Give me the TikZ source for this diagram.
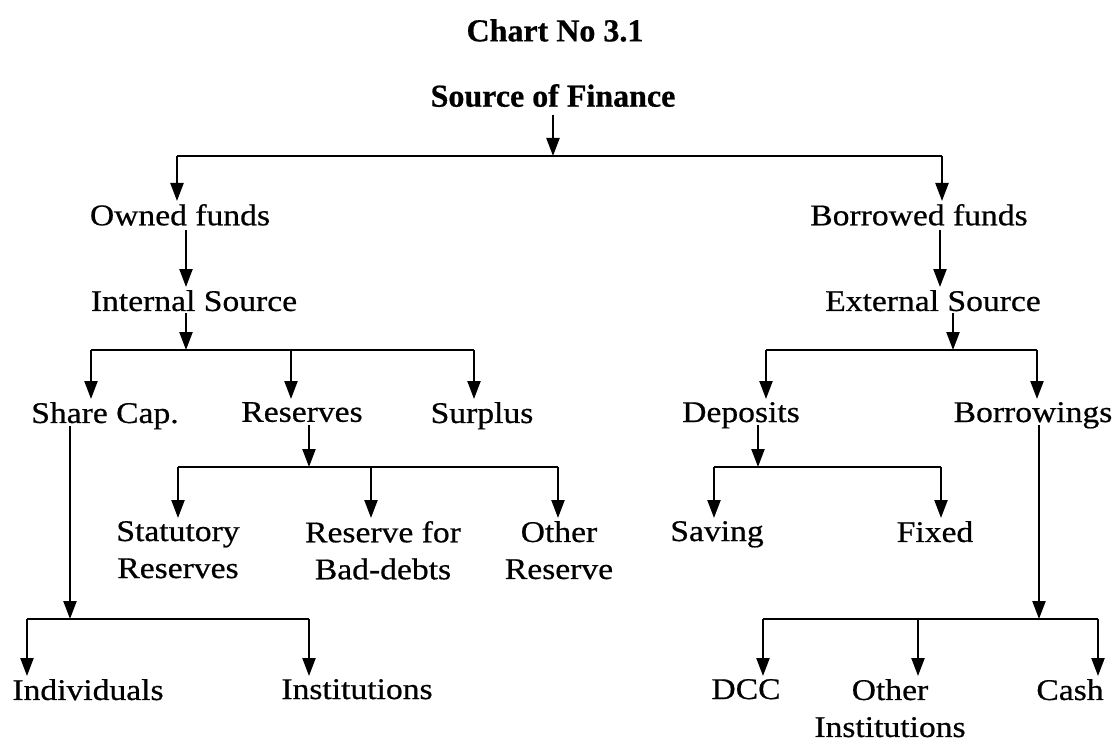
\documentclass[tikz,border=0pt]{standalone}
\usepackage{fontspec}
\setmainfont{Liberation Serif}[FakeStretch=1.12, FakeBold=0.6]
\newfontfamily\titlefont{Liberation Serif}[FakeBold=0.6]
\usetikzlibrary{arrows.meta}

\begin{document}
\begin{tikzpicture}[x=1pt, y=-1pt, line width=2.3pt,
    >={Triangle[width=13pt, length=18pt]},
    lbl/.style={anchor=north, inner sep=0pt, align=center,
        font=\fontsize{30}{37}\selectfont},
    head/.style={anchor=north, inner sep=0pt,
        font=\titlefont\bfseries\fontsize{32}{38}\selectfont},
    arr/.style={->, shorten >=2pt}]
    \useasboundingbox (0,0) rectangle (1120,749);

    % titles
    \node[head] (title) at (555,18) {Chart No 3.1};
    \node[head] (src) at (553,83) {Source of Finance};

    % first levels
    \node[lbl] (owned) at (180,203) {Owned funds};
    \node[lbl] (borrowed) at (919,203) {Borrowed funds};
    \node[lbl] (internal) at (194,289) {Internal Source};
    \node[lbl] (external) at (933,289) {External Source};

    % third level
    \node[lbl] (share) at (105,401) {Share Cap.};
    \node[lbl] (reserves) at (302,401) {Reserves};
    \node[lbl] (surplus) at (482,401) {Surplus};
    \node[lbl] (deposits) at (741,401) {Deposits};
    \node[lbl] (borrowings) at (1033,401) {Borrowings};

    % fourth level
    \node[lbl] (statutory) at (178,520) {Statutory\\Reserves};
    \node[lbl] (badDebts) at (383,520) {Reserve for\\Bad-debts};
    \node[lbl] (otherRes) at (559,520) {Other\\Reserve};
    \node[lbl] (saving) at (717,520) {Saving};
    \node[lbl] (fixed) at (935,520) {Fixed};

    % last level
    \node[lbl] (individuals) at (88,678) {Individuals};
    \node[lbl] (institutions) at (357,678) {Institutions};
    \node[lbl] (dcc) at (746,678) {DCC};
    \node[lbl] (otherInst) at (890,678) {Other\\Institutions};
    \node[lbl] (cash) at (1070,678) {Cash};

    % junctions
    \coordinate (s0) at (553,156);
    \coordinate (b1L) at (177,156);
    \coordinate (b1R) at (942,156);
    \coordinate (s1) at (186,0);
    \coordinate (s2) at (940,0);
    \coordinate (b2) at (186,350);
    \coordinate (b2L) at (91,350);
    \coordinate (b2M) at (291,350);
    \coordinate (b2R) at (474,350);
    \coordinate (b3) at (953,350);
    \coordinate (b3L) at (766,350);
    \coordinate (b3R) at (1037,350);
    \coordinate (b4) at (309,467);
    \coordinate (b4L) at (178,467);
    \coordinate (b4M) at (371,467);
    \coordinate (b4R) at (558,467);
    \coordinate (b5) at (758,467);
    \coordinate (b5L) at (714,467);
    \coordinate (b5R) at (941,467);
    \coordinate (b6) at (70,619);
    \coordinate (b6L) at (27,619);
    \coordinate (b6R) at (309,619);
    \coordinate (b7) at (1039,619);
    \coordinate (b7L) at (763,619);
    \coordinate (b7M) at (918,619);
    \coordinate (b7R) at (1098,619);

    % source of finance
    \draw[->] ([yshift=-8pt]src.base -| s0) -- (s0);
    \draw (b1L) -- (b1R);
    \draw[arr] (b1L) -- (owned.north -| b1L);
    \draw[arr] (b1R) -- (borrowed.north -| b1R);
    \draw[arr] ([yshift=-5pt]owned.base -| s1) -- (internal.north -| s1);
    \draw[arr] ([yshift=-5pt]borrowed.base -| s2) -- (external.north -| s2);

    % internal side
    \draw[->] ([yshift=-2pt]internal.base -| b2) -- (b2);
    \draw (b2L) -- (b2R);
    \foreach \j/\n in {b2L/share, b2M/reserves, b2R/surplus}
        \draw[arr] (\j) -- (\n.north -| \j);
    \draw[->] ([yshift=-3pt]reserves.base -| b4) -- (b4);
    \draw (b4L) -- (b4R);
    \foreach \j/\n in {b4L/statutory, b4M/badDebts, b4R/otherRes}
        \draw[arr] (\j) -- (\n.north -| \j);
    \draw[->] ([yshift=-3pt]share.base -| b6) -- (b6);
    \draw (b6L) -- (b6R);
    \foreach \j/\n in {b6L/individuals, b6R/institutions}
        \draw[arr] (\j) -- (\n.north -| \j);

    % external side
    \draw[->] ([yshift=-2pt]external.base -| b3) -- (b3);
    \draw (b3L) -- (b3R);
    \foreach \j/\n in {b3L/deposits, b3R/borrowings}
        \draw[arr] (\j) -- (\n.north -| \j);
    \draw[->] ([yshift=-3pt]deposits.base -| b5) -- (b5);
    \draw (b5L) -- (b5R);
    \foreach \j/\n in {b5L/saving, b5R/fixed}
        \draw[arr] (\j) -- (\n.north -| \j);
    \draw[->] ([yshift=-3pt]borrowings.base -| b7) -- (b7);
    \draw (b7L) -- (b7R);
    \foreach \j/\n in {b7L/dcc, b7M/otherInst, b7R/cash}
        \draw[arr] (\j) -- (\n.north -| \j);
\end{tikzpicture}
\end{document}
